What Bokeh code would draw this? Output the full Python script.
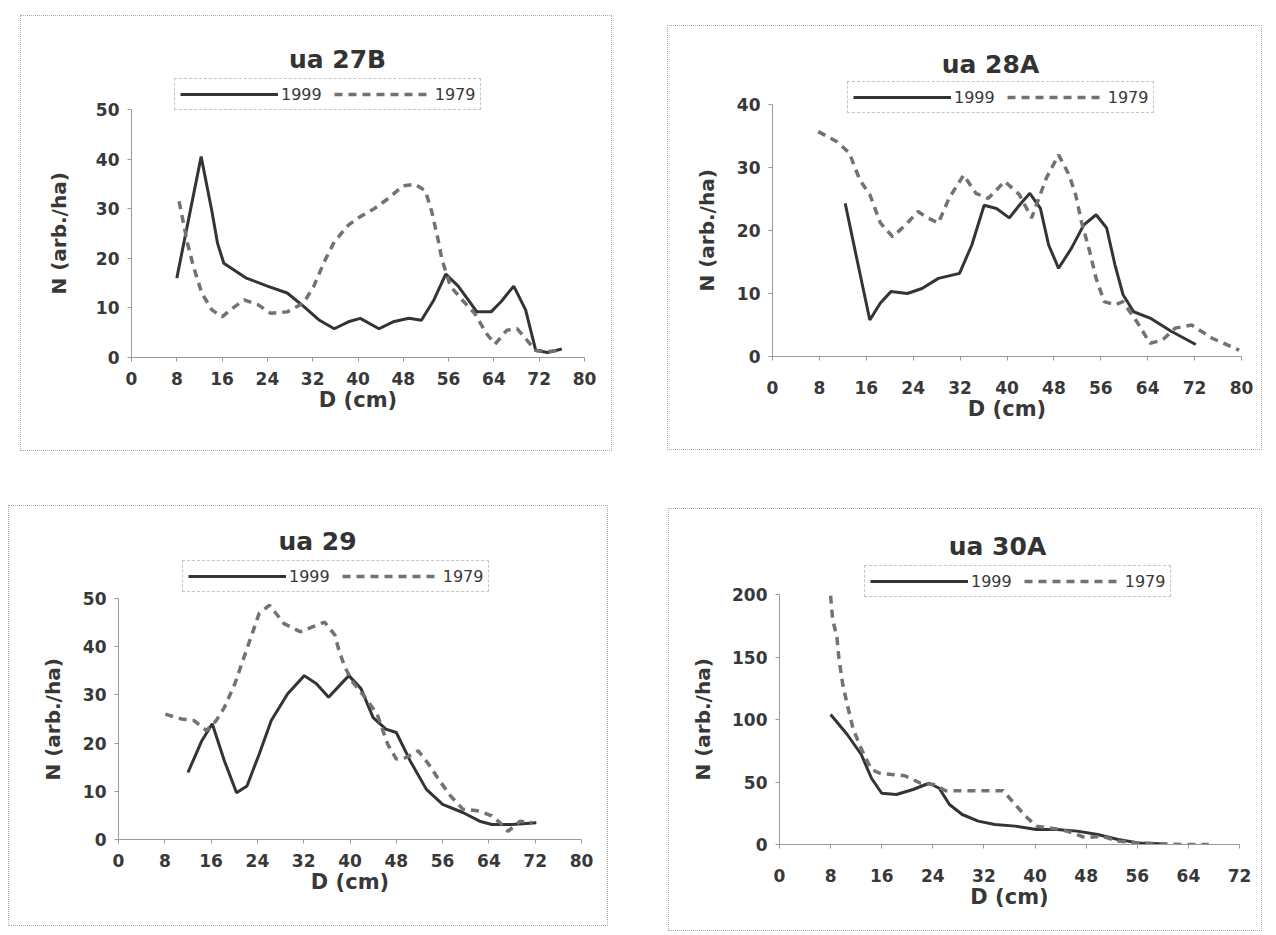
from bokeh.plotting import figure
from bokeh.models import Range1d, FixedTicker, Legend, LegendItem, Label, Title
from bokeh.layouts import row, column
from bokeh.embed import file_html
from bokeh.resources import INLINE

# ---------------- data ----------------
years = ["1999", "1979"]
titles = ["ua 27B", "ua 28A", "ua 29", "ua 30A"]
x_label = "D (cm)"
y_label = "N (arb./ha)"

xt_80 = [0, 8, 16, 24, 32, 40, 48, 56, 64, 72, 80]
xt_72 = [0, 8, 16, 24, 32, 40, 48, 56, 64, 72]
yt_27b = [0, 10, 20, 30, 40, 50]
yt_28a = [0, 10, 20, 30, 40]
yt_29 = [0, 10, 20, 30, 40, 50]
yt_30a = [0, 50, 100, 150, 200]

# ua 27B
d27b_1999 = [8, 12.3, 14.2, 15.2, 16.3, 20.3, 24, 27.5, 30.4, 33.2, 35.8, 38.3, 40.4, 43.7, 46.2, 49,
             51.2, 53.4, 55.5, 57.7, 61, 63.5, 65.3, 67.5, 69.6, 71.4, 73.5, 76]
n27b_1999 = [16, 40.5, 29.5, 23, 19, 16, 14.4, 13, 10.3, 7.5, 5.8, 7.2, 7.9, 5.8, 7.2, 7.9,
             7.5, 11.6, 16.8, 14.4, 9.2, 9.2, 11.3, 14.4, 9.6, 1.4, 1.0, 1.7]
d27b_1979 = [8.4, 9.9, 10.9, 12.4, 14.2, 16, 17.8, 19.9, 22.4, 24.6, 27.5, 30.4, 32.2, 34, 35.8, 38.3,
             40.4, 43, 45.5, 47.9, 50.1, 51.9, 53, 54.1, 54.8, 56.3, 58.4, 60.6, 62.7, 64.2, 66.3,
             68.1, 69.9, 71.4, 73.5, 76]
n27b_1979 = [31.5, 23, 18.5, 13, 9.6, 8.2, 9.9, 11.6, 10.6, 8.9, 9.2, 11, 14.4, 19.2, 23.3, 26.7,
             28.4, 30.1, 32.2, 34.6, 34.9, 33.6, 29.5, 24, 19.9, 14.4, 11.6, 8.9, 4.8, 2.7, 5.5,
             5.8, 3.4, 1.4, 1.2, 1.5]

# ua 28A
d28a_1999 = [12.4, 14.5, 16.6, 18.4, 20.2, 23, 25.5, 28.3, 31.9, 34, 36.1, 38.2, 40.4, 42.1, 43.9,
             45.7, 47.1, 48.8, 51, 53.1, 55.2, 57, 58.4, 59.8, 61.6, 64.4, 68, 72.2]
n28a_1999 = [24.3, 15, 5.8, 8.5, 10.3, 10, 10.8, 12.4, 13.2, 17.7, 24, 23.5, 22, 24, 25.9,
             23.5, 17.7, 14, 17.2, 20.9, 22.5, 20.4, 14.6, 9.8, 7.1, 6.1, 4, 1.9]
d28a_1979 = [7.8, 11, 13.1, 14.9, 16.6, 18.4, 20.5, 22.7, 24.8, 26.5, 28.3, 30.1, 32.6, 34.7, 36.8,
             39.6, 42.1, 44.2, 46.7, 48.8, 50.6, 51.7, 52.7, 54.1, 55.2, 56.6, 58.4, 59.8, 62.3,
             64.4, 66.5, 68.7, 71.5, 75, 79.6]
n28a_1979 = [35.7, 34.1, 32.3, 28, 25.7, 21.2, 19, 20.9, 23, 22, 21.2, 25.1, 28.8, 25.9, 25.1,
             27.8, 25.7, 22, 28.3, 32, 28.8, 25.7, 21.4, 16.7, 12.4, 8.7, 8.2, 8.7, 5.3,
             2.1, 2.6, 4.5, 5, 2.9, 1]

# ua 29
d29_1999 = [12, 14.4, 16.2, 18.3, 20.4, 22.2, 24.3, 26.4, 29.2, 32.1, 34.2, 36.3, 38.7, 39.8, 41.9,
            44, 46.2, 48, 50.4, 53.2, 56, 59.5, 62.4, 64.5, 68, 72.2]
n29_1999 = [13.9, 20.5, 24, 16.3, 9.7, 11.1, 17.7, 24.7, 30.2, 34, 32.3, 29.5, 32.6, 34, 31.3,
            25.3, 22.9, 22.2, 16.3, 10.4, 7.3, 5.6, 3.8, 3.1, 3.1, 3.5]
d29_1979 = [8.1, 10.9, 13, 15.2, 16.9, 18.3, 20.1, 21.1, 22.2, 23.3, 24.3, 26.1, 28.6, 31.4, 33.5,
            35.6, 37.4, 38.1, 39.1, 40.5, 42.6, 44.7, 46.5, 48, 49.7, 51.8, 53.6, 55.3, 57.4,
            59.5, 62.4, 64.5, 65.9, 67.3, 69.4, 71.5]
n29_1979 = [26, 25, 24.7, 22.6, 24.7, 27.4, 32.3, 35.8, 39.6, 43.4, 46.9, 48.6, 44.8, 43.1, 44.1,
            45.1, 42.4, 39.2, 35.8, 32.6, 29.5, 26, 19.8, 16.7, 17, 18.4, 15.6, 12.5, 9,
            6.3, 5.9, 4.9, 3.5, 1.7, 3.8, 3.5]

# ua 30A
d30a_1999 = [8, 10.6, 12.8, 14.4, 16, 18.3, 20.9, 23.4, 25, 26.6, 28.6, 31.1, 33.7, 36.9, 40.2,
             43.4, 46.6, 49.8, 53, 56.2, 60.4]
n30a_1999 = [104, 88, 72, 53, 41, 40, 44, 49, 45, 32, 24, 18.7, 16, 14.7, 12,
             12, 10.7, 8, 4, 1.3, 0.5]
d30a_1979 = [8, 8.3, 9, 9.3, 9.9, 10.6, 11.5, 12.5, 13.5, 14.4, 15.7, 17.6, 19.6, 22.1, 24.1, 26,
             28.6, 31.8, 35, 36.9, 38.5, 40.2, 42.1, 44, 45.9, 47.9, 50.4, 53, 56.2, 60.1, 63.3, 67.2]
n30a_1979 = [199, 181, 165, 149, 128, 112, 93, 80, 69, 60, 57, 56, 55, 49, 48, 43,
             43, 43, 43, 32, 22.7, 14.7, 13.3, 12, 9.3, 5.3, 6.7, 2.7, 1.3, 0.5, 0, 0]

# ---------------- styling ----------------
SOLID_COLOR = "#343434"
DASH_COLOR = "#727272"
TEXT_COLOR = "#383838"
AXIS_COLOR = "#9a9a9a"
FONT = "DejaVu Sans"
YLAB_SIZE = 20
YLAB_LEN = 122  # approx. rendered length of the rotated y title


def panel(title, xt, yt, s1999, s1979, box, fb, x_px, y_px, title_c, leg_box,
          ylab_standoff, xlab_standoff):
    L, T, R = box
    xa, xb = x_px
    y0p, ytp = y_px
    ft = 2
    B = y0p + fb
    w, h = R - L, B - T
    fl = xa - L
    fr = R - xb
    ppx = (xb - xa) / (xt[-1] - xt[0])
    ppu = (y0p - ytp) / (yt[-1] - yt[0])
    ytop = yt[0] + (y0p - (T + ft)) / ppu

    p = figure(width=w, height=h, output_backend="svg", toolbar_location=None,
               min_border_left=fl, min_border_right=fr, min_border_top=ft, min_border_bottom=fb,
               x_range=Range1d(xt[0], xt[-1]), y_range=Range1d(yt[0], ytop))
    p.outline_line_color = None
    p.background_fill_color = "white"
    p.border_fill_color = "white"
    p.xgrid.visible = False
    p.ygrid.visible = False
    p.styles = {"border": "1px dotted #a8a8a8"}

    for ax in (p.xaxis[0], p.yaxis[0]):
        ax.axis_line_color = AXIS_COLOR
        ax.axis_line_width = 1
        ax.major_tick_line_color = AXIS_COLOR
        ax.major_tick_in = 0
        ax.major_tick_out = 4
        ax.minor_tick_line_color = None
        ax.major_label_text_font = FONT
        ax.major_label_text_font_style = "bold"
        ax.major_label_text_font_size = "17px"
        ax.major_label_text_color = TEXT_COLOR
        ax.axis_label_text_font = FONT
        ax.axis_label_text_font_style = "bold"
        ax.axis_label_text_font_size = "21px"
        ax.axis_label_text_color = TEXT_COLOR
    p.xaxis.ticker = FixedTicker(ticks=xt)
    p.yaxis.ticker = FixedTicker(ticks=yt)
    p.yaxis.bounds = (yt[0], yt[-1])
    p.xaxis.axis_label = x_label
    p.xaxis.major_label_standoff = xlab_standoff
    p.xaxis.axis_label_standoff = 0
    p.yaxis.major_label_standoff = 8

    r1 = p.line(s1999[0], s1999[1], line_color=SOLID_COLOR, line_width=3)
    r2 = p.line(s1979[0], s1979[1], line_color=DASH_COLOR, line_width=3.5, line_dash="8 6")

    # y-axis title in the left panel, centred on the drawn part of the value axis
    ymid_page = (y0p + ytp) / 2
    off = int(y0p - (ymid_page + YLAB_LEN / 2))
    p.add_layout(Title(text=y_label, align="left", offset=off, standoff=ylab_standoff,
                       text_font=FONT, text_font_style="bold",
                       text_font_size=f"{YLAB_SIZE}px", text_color=TEXT_COLOR), "left")

    # chart title positioned from the panel layout
    tx = xt[0] + (title_c[0] - xa) / ppx
    ty = yt[0] + (y0p - title_c[1]) / ppu
    p.add_layout(Label(x=tx, y=ty, text=title, text_align="center", text_baseline="middle",
                       text_font=FONT, text_font_style="bold",
                       text_font_size="25px", text_color="#333333"))

    lx0, ly0, lx1, ly1 = leg_box
    leg = Legend(items=[LegendItem(label=years[0], renderers=[r1]),
                        LegendItem(label=years[1], renderers=[r2])],
                 orientation="horizontal", location=(lx0 - xa, y0p - ly1),
                 glyph_width=98, glyph_height=20, label_standoff=3, spacing=12,
                 padding=5, margin=0,
                 label_text_font=FONT, label_text_font_size="16px",
                 label_text_color=TEXT_COLOR,
                 border_line_color="#8a8a8a", border_line_width=1, border_line_dash="3 2",
                 background_fill_color="white", background_fill_alpha=1.0)
    p.add_layout(leg)
    return p


FB_ROW1 = 95
FB_ROW2 = 88

p1 = panel(titles[0], xt_80, yt_27b, (d27b_1999, n27b_1999), (d27b_1979, n27b_1979),
           box=(20, 15, 612), fb=FB_ROW1, x_px=(130, 583), y_px=(356, 108),
           title_c=(336, 58), leg_box=(173, 78, 484, 109), ylab_standoff=44, xlab_standoff=10)
p2 = panel(titles[1], xt_80, yt_28a, (d28a_1999, n28a_1999), (d28a_1979, n28a_1979),
           box=(667, 25, 1262), fb=FB_ROW1, x_px=(771, 1240), y_px=(355, 103),
           title_c=(989, 63), leg_box=(846, 81, 1158, 112), ylab_standoff=30, xlab_standoff=20)
p3 = panel(titles[2], xt_80, yt_29, (d29_1999, n29_1999), (d29_1979, n29_1979),
           box=(8, 505, 608), fb=FB_ROW2, x_px=(117, 580), y_px=(838, 597),
           title_c=(316, 540), leg_box=(181, 557, 490, 591), ylab_standoff=30, xlab_standoff=10)
p4 = panel(titles[3], xt_72, yt_30a, (d30a_1999, n30a_1999), (d30a_1979, n30a_1979),
           box=(668, 508, 1262), fb=FB_ROW2, x_px=(778, 1238), y_px=(843, 593),
           title_c=(996, 545), leg_box=(863, 563, 1177, 596), ylab_standoff=30, xlab_standoff=20)

row1_h = max(15 + p1.height, 25 + p2.height)
p1.margin = (15, 0, 0, 20)
p2.margin = (25, 0, 0, 667 - 612)
p3.margin = (505 - row1_h, 0, 0, 8)
p4.margin = (508 - row1_h, 0, 0, 668 - 608)

layout = column(row(p1, p2), row(p3, p4))
layout.margin = 0

open("out.html", "w").write(file_html(layout, INLINE))
